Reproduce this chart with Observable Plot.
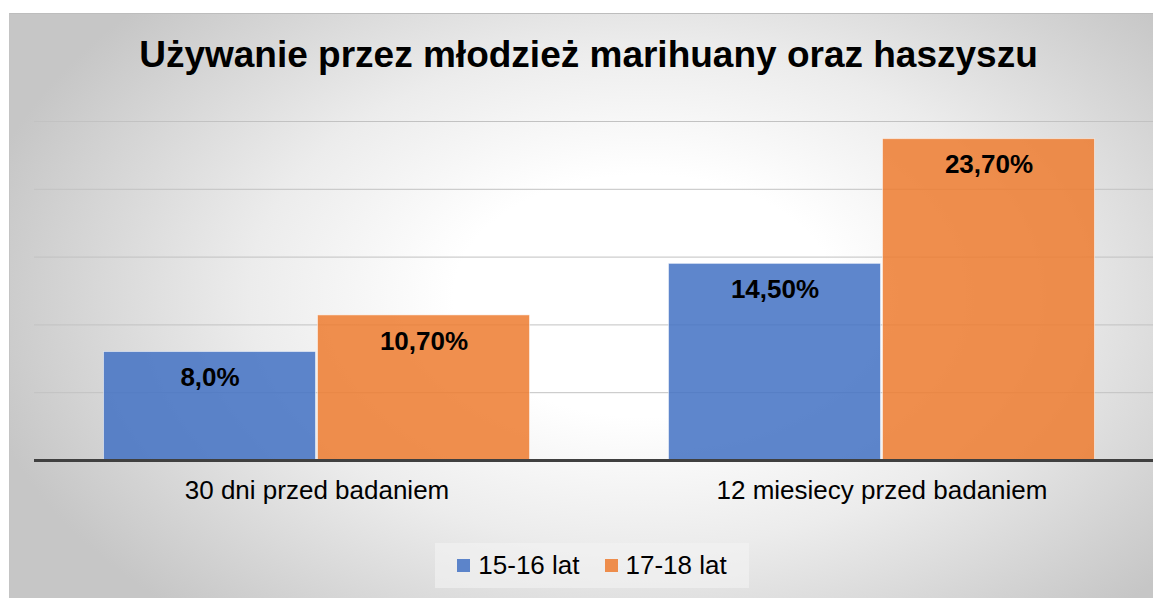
<!DOCTYPE html>
<html><head><meta charset="utf-8">
<script src="https://cdn.jsdelivr.net/npm/d3@7"></script>
<script src="https://cdn.jsdelivr.net/npm/@observablehq/plot@0.6"></script>
<style>
html,body{margin:0;padding:0;background:#fff;width:1153px;height:598px;overflow:hidden;font-family:"Liberation Sans",Arial,sans-serif;}
#wrap{position:absolute;left:0;top:0;width:1153px;height:598px;overflow:hidden;}
#frame{position:absolute;left:9px;top:13px;width:1175px;height:600px;border-top:1px solid #bdbdbd;border-left:1px solid #c4c4c4;
 background:radial-gradient(ellipse 58% 72% at 54% 47%, #ffffff 0%, #ffffff 28%, #ececec 58%, #c6c6c6 100%);}
#title{position:absolute;left:0;top:36px;width:1177px;text-align:center;font-size:37px;line-height:37px;font-weight:bold;color:#000;white-space:nowrap;}
#chart{position:absolute;left:0;top:100px;width:1170px;}
#chart svg{max-width:none !important;}
#legend{position:absolute;left:435px;top:543px;width:314px;height:45px;background:rgba(244,244,244,0.6);display:flex;align-items:center;justify-content:center;font-size:26px;color:#000;}
.item{display:flex;align-items:center;}
.item + .item{margin-left:25px;}
.sw{width:13px;height:13px;margin-right:8px;}
</style>
</head><body>
<div id="wrap">
 <div id="frame"></div>
 <div id="title">Używanie przez młodzież marihuany oraz haszyszu</div>
 <div id="chart"></div>
 <div id="legend"></div>
</div>
<script>
const categories = ["30 dni przed badaniem", "12 miesiecy przed badaniem"];
const groups = ["15-16 lat", "17-18 lat"];
const values1516 = [8.0, 14.5];
const values1718 = [10.7, 23.7];
const labels1516 = ["8,0%", "14,50%"];
const labels1718 = ["10,70%", "23,70%"];
const colors = ["#4472C4", "#ED7D31"];
const yTicks = [0, 5, 10, 15, 20, 25];

const data = categories.flatMap((c, i) => [
  {category: c, group: groups[0], value: values1516[i], label: labels1516[i]},
  {category: c, group: groups[1], value: values1718[i], label: labels1718[i]}
]);

const chart = Plot.plot({
  width: 1170, height: 410,
  marginTop: 21, marginBottom: 50, marginLeft: 33.5, marginRight: 6.5,
  style: {background: "transparent", fontFamily: "'Liberation Sans', Arial, sans-serif", overflow: "visible", maxWidth: "none"},
  fx: {domain: categories, padding: 0, label: null},
  x: {domain: groups, paddingInner: 0.01, paddingOuter: 0.325, axis: null},
  y: {domain: [0, 25], axis: null},
  color: {domain: groups, range: colors},
  marks: [
    Plot.ruleY(yTicks.slice(1), {stroke: "#c2c2c2", strokeWidth: 1}),
    Plot.barY(data, {fx: "category", x: "group", y: "value", fill: "group", fillOpacity: 0.86, stroke: "#ffffff", strokeOpacity: 0.5, strokeWidth: 1}),
    Plot.ruleY([0], {stroke: "#404040", strokeWidth: 3}),
    Plot.text(data, {fx: "category", x: "group", y: "value", text: "label", dy: 26, fontSize: 26, fontWeight: "bold", fill: "#000"}),
    Plot.axisFx({anchor: "bottom", tickSize: 0, tickPadding: 20, fontSize: 26, label: null, color: "#000"})
  ]
});
document.getElementById("chart").appendChild(chart);

const legend = document.getElementById("legend");
groups.forEach((g, i) => {
  const it = document.createElement("div");
  it.className = "item";
  const sw = document.createElement("div");
  sw.className = "sw";
  sw.style.background = colors[i];
  sw.style.opacity = 0.86;
  const tx = document.createElement("span");
  tx.textContent = g;
  it.appendChild(sw); it.appendChild(tx);
  legend.appendChild(it);
});
</script>
</body></html>
